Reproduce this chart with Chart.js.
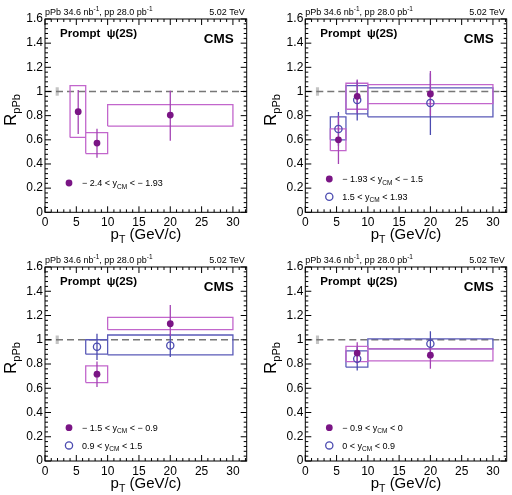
<!DOCTYPE html>
<html>
<head>
<meta charset="utf-8">
<script src="https://cdn.jsdelivr.net/npm/chart.js@4.4.0/dist/chart.umd.min.js"></script>
<style>
  body { margin: 0; background: #fff; }
  #wrap { position: relative; width: 512px; height: 495px; }
  canvas { position: absolute; }
</style>
</head>
<body>
<div id="wrap">
  <canvas id="c1" width="256" height="248" style="left:0;top:0"></canvas>
  <canvas id="c2" width="256" height="248" style="left:256px;top:0"></canvas>
  <canvas id="c3" width="256" height="247" style="left:0;top:248px"></canvas>
  <canvas id="c4" width="256" height="247" style="left:256px;top:248px"></canvas>
</div>
<script>
const FONT = '"Liberation Sans", Arial, Helvetica, sans-serif';

// pT bins
const binLo = [4, 6.5, 10];
const binHi = [6.5, 10, 30];
const ptMean = [5.3, 8.3, 20];
const xTicks = [0, 5, 10, 15, 20, 25, 30];
const yTicks = [0, 0.2, 0.4, 0.6, 0.8, 1, 1.2, 1.4, 1.6];
const xMax = 32.2;
const yMax = 1.6;
// global uncertainty box at unity
const globalX = [1.7, 2.2];
const globalY = [0.965, 1.035];

// -2.4 < y_CM < -1.93
const rA = [0.833, 0.573, 0.805];
const rAStatLo = [0.648, 0.452, 0.593];
const rAStatHi = [1.012, 0.692, 1.007];
const rASystLo = [0.62, 0.486, 0.714];
const rASystHi = [1.048, 0.659, 0.891];

// -1.93 < y_CM < -1.5
const rB = [0.60, 0.96, 0.98];
const rBStatLo = [0.40, 0.82, 0.80];
const rBStatHi = [0.80, 1.10, 1.17];
const rBSystLo = [0.51, 0.853, 0.90];
const rBSystHi = [0.69, 1.068, 1.056];

// 1.5 < y_CM < 1.93
const rC = [0.69, 0.93, 0.905];
const rCStatLo = [0.55, 0.76, 0.64];
const rCStatHi = [0.83, 1.09, 1.15];
const rCSystLo = [0.60, 0.814, 0.79];
const rCSystHi = [0.79, 1.048, 1.03];

// -1.5 < y_CM < -0.9
const rD = [null, 0.716, 1.132];
const rDStatLo = [null, 0.61, 1.03];
const rDStatHi = [null, 0.82, 1.287];
const rDSystLo = [null, 0.647, 1.083];
const rDSystHi = [null, 0.785, 1.185];

// 0.9 < y_CM < 1.5
const rE = [null, 0.942, 0.953];
const rEStatLo = [null, 0.834, 0.857];
const rEStatHi = [null, 1.05, 1.05];
const rESystLo = [null, 0.881, 0.876];
const rESystHi = [null, 1.0, 1.039];

// -0.9 < y_CM < 0
const rF = [null, 0.89, 0.873];
const rFStatLo = [null, 0.80, 0.76];
const rFStatHi = [null, 0.98, 0.945];
const rFSystLo = [null, 0.82, 0.826];
const rFSystHi = [null, 0.945, 0.925];

// 0 < y_CM < 0.9
const rG = [null, 0.843, 0.967];
const rGStatLo = [null, 0.746, 0.862];
const rGStatHi = [null, 0.94, 1.07];
const rGSystLo = [null, 0.774, 0.925];
const rGSystHi = [null, 0.909, 1.008];

const purple = '#7a1585';
const purpleLine = '#a443b4';
const magentaBox = '#c266cc';
const blue = '#4b4bb0';
const blueBox = '#5a5ab8';

function series(r, statLo, statHi, systLo, systHi, open, label) {
  return { r, statLo, statHi, systLo, systHi, open, label };
}

const panels = [
  {
    id: 'c1', height: 248, left: 45, right: 246.7, top: 19, bottom: 212.3,
    series: [series(rA, rAStatLo, rAStatHi, rASystLo, rASystHi, false, ['\u2212 2.4 < y', 'CM', ' < \u2212 1.93'])],
    legendY: [29.3]
  },
  {
    id: 'c2', height: 248, left: 49.3, right: 250.7, top: 19, bottom: 212.3,
    series: [
      series(rB, rBStatLo, rBStatHi, rBSystLo, rBSystHi, false, ['\u2212 1.93 < y', 'CM', ' < \u2212 1.5']),
      series(rC, rCStatLo, rCStatHi, rCSystLo, rCSystHi, true, ['1.5 < y', 'CM', ' < 1.93'])
    ],
    legendY: [33.3, 15.6]
  },
  {
    id: 'c3', height: 247, left: 45, right: 246.7, top: 19, bottom: 213,
    series: [
      series(rD, rDStatLo, rDStatHi, rDSystLo, rDSystHi, false, ['\u2212 1.5 < y', 'CM', ' < \u2212 0.9']),
      series(rE, rEStatLo, rEStatHi, rESystLo, rESystHi, true, ['0.9 < y', 'CM', ' < 1.5'])
    ],
    legendY: [33.3, 15.6]
  },
  {
    id: 'c4', height: 247, left: 49.3, right: 250.7, top: 19, bottom: 213,
    series: [
      series(rF, rFStatLo, rFStatHi, rFSystLo, rFSystHi, false, ['\u2212 0.9 < y', 'CM', ' < 0']),
      series(rG, rGStatLo, rGStatHi, rGSystLo, rGSystHi, true, ['0 < y', 'CM', ' < 0.9'])
    ],
    legendY: [33.3, 15.6]
  }
];

function makeDatasets(list) {
  const ds = [];
  ds.push({
    data: [{ x: 0, y: 1 }, { x: xMax, y: 1 }],
    showLine: true, borderColor: '#777777', borderWidth: 1.6, borderDash: [7, 4],
    pointRadius: 0, order: 3
  });
  list.forEach(s => {
    const boxes = [], bars = [], pts = [];
    s.r.forEach((v, i) => {
      if (v == null) return;
      boxes.push(
        { x: binLo[i], y: s.systLo[i] }, { x: binHi[i], y: s.systLo[i] },
        { x: binHi[i], y: s.systHi[i] }, { x: binLo[i], y: s.systHi[i] },
        { x: binLo[i], y: s.systLo[i] }, { x: binLo[i], y: null }
      );
      bars.push({ x: ptMean[i], y: s.statLo[i] }, { x: ptMean[i], y: s.statHi[i] }, { x: ptMean[i], y: null });
      pts.push({ x: ptMean[i], y: v });
    });
    ds.push({
      data: boxes, showLine: true, spanGaps: false, pointRadius: 0,
      borderColor: s.open ? blueBox : magentaBox, borderWidth: 1.3, order: 2
    });
    ds.push({
      data: bars, showLine: true, spanGaps: false, pointRadius: 0,
      borderColor: s.open ? blue : purpleLine, borderWidth: 1.3, order: 1
    });
    ds.push({
      data: pts, showLine: false,
      pointRadius: s.open ? 3.6 : 3.4,
      pointBackgroundColor: s.open ? 'rgba(255,255,255,0)' : purple,
      pointBorderColor: s.open ? blue : purple,
      pointBorderWidth: s.open ? 1.3 : 0,
      order: 0
    });
  });
  return ds;
}

function rich(ctx, parts, x, y, align) {
  let w = 0;
  parts.forEach(p => {
    ctx.font = (p.bold ? 'bold ' : '') + p.size + 'px ' + FONT;
    w += ctx.measureText(p.t).width;
  });
  let cx = align === 'right' ? x - w : align === 'center' ? x - w / 2 : x;
  parts.forEach(p => {
    ctx.font = (p.bold ? 'bold ' : '') + p.size + 'px ' + FONT;
    ctx.fillText(p.t, cx, y + (p.dy || 0));
    cx += ctx.measureText(p.t).width;
  });
}

const deco = {
  id: 'deco',
  beforeDatasetsDraw(chart) {
    const { x, y } = chart.scales;
    const ctx = chart.ctx;
    ctx.save();
    ctx.fillStyle = '#c4c4c4';
    const x0 = x.getPixelForValue(globalX[0]), x1 = x.getPixelForValue(globalX[1]);
    const y0 = y.getPixelForValue(globalY[0]), y1 = y.getPixelForValue(globalY[1]);
    ctx.fillRect(x0, y1, x1 - x0, y0 - y1);
    ctx.restore();
  },
  afterDraw(chart, args, opts) {
    const { x, y } = chart.scales;
    const ctx = chart.ctx;
    const a = chart.chartArea;
    ctx.save();
    ctx.strokeStyle = '#000';
    ctx.lineWidth = 1;
    ctx.strokeRect(a.left, a.top, a.right - a.left, a.bottom - a.top);
    ctx.beginPath();
    for (let v = 0; v <= xMax; v += 1) {
      const px = x.getPixelForValue(v);
      const len = v % 5 === 0 ? 6 : 3;
      ctx.moveTo(px, a.bottom); ctx.lineTo(px, a.bottom - len);
      ctx.moveTo(px, a.top); ctx.lineTo(px, a.top + len);
    }
    for (let k = 0; k <= 40; k++) {
      const py = y.getPixelForValue(k * 0.04);
      const len = k % 5 === 0 ? 6 : 3;
      ctx.moveTo(a.left, py); ctx.lineTo(a.left + len, py);
      ctx.moveTo(a.right, py); ctx.lineTo(a.right - len, py);
    }
    ctx.stroke();

    ctx.fillStyle = '#000';
    ctx.textBaseline = 'alphabetic';
    rich(ctx, [
      { t: 'pPb 34.6 nb', size: 9 }, { t: '-1', size: 6.5, dy: -3.5 },
      { t: ', pp 28.0 pb', size: 9 }, { t: '-1', size: 6.5, dy: -3.5 }
    ], a.left, a.top - 4.5, 'left');
    rich(ctx, [{ t: '5.02 TeV', size: 9 }], a.right - 2, a.top - 4.5, 'right');
    rich(ctx, [{ t: 'Prompt  \u03c8(2S)', size: 11.5, bold: true }], a.left + 15, a.top + 18.3, 'left');
    rich(ctx, [{ t: 'CMS', size: 13.5, bold: true }], a.right - 13, a.top + 24.3, 'right');

    // axis titles
    rich(ctx, [
      { t: 'p', size: 15 }, { t: 'T', size: 10.5, dy: 4 }, { t: ' (GeV/c)', size: 15 }
    ], (a.left + a.right) / 2, a.bottom + 27, 'center');
    ctx.save();
    ctx.translate(a.left - 29, a.top + 91);
    ctx.rotate(-Math.PI / 2);
    rich(ctx, [{ t: 'R', size: 17 }, { t: 'pPb', size: 11, dy: 4 }], 0, 0, 'center');
    ctx.restore();

    // legend
    opts.series.forEach((s, i) => {
      const mx = a.left + 24;
      const my = a.bottom - opts.legendY[i];
      ctx.beginPath();
      ctx.arc(mx, my, s.open ? 3.6 : 3.4, 0, Math.PI * 2);
      if (s.open) {
        ctx.strokeStyle = blue; ctx.lineWidth = 1.3; ctx.stroke();
      } else {
        ctx.fillStyle = purple; ctx.fill();
      }
      ctx.fillStyle = '#000';
      rich(ctx, [
        { t: s.label[0], size: 9 }, { t: s.label[1], size: 6.5, dy: 2.5 }, { t: s.label[2], size: 9 }
      ], mx + 13, my + 3.2, 'left');
    });
    ctx.restore();
  }
};

panels.forEach(p => {
  new Chart(document.getElementById(p.id), {
    type: 'scatter',
    data: { datasets: makeDatasets(p.series) },
    options: {
      responsive: false,
      animation: false,
      layout: { padding: { top: p.top, right: 256 - p.right, left: 0, bottom: 0 } },
      plugins: {
        legend: { display: false },
        tooltip: { enabled: false },
        deco: { series: p.series, legendY: p.legendY }
      },
      scales: {
        x: {
          type: 'linear', min: 0, max: xMax,
          grid: { display: false, drawTicks: false },
          border: { display: false },
          ticks: { color: '#000', font: { family: FONT, size: 12 }, padding: 3, maxRotation: 0, autoSkip: false },
          afterBuildTicks: s => { s.ticks = xTicks.map(v => ({ value: v })); },
          afterFit: s => { s.height = p.height - p.bottom; }
        },
        y: {
          type: 'linear', min: 0, max: yMax,
          grid: { display: false, drawTicks: false },
          border: { display: false },
          ticks: {
            color: '#000', font: { family: FONT, size: 12 }, padding: 2, autoSkip: false,
            callback: v => String(+v.toFixed(1))
          },
          afterBuildTicks: s => { s.ticks = yTicks.map(v => ({ value: v })); },
          afterFit: s => { s.width = p.left; }
        }
      }
    },
    plugins: [deco]
  });
});
</script>
</body>
</html>
